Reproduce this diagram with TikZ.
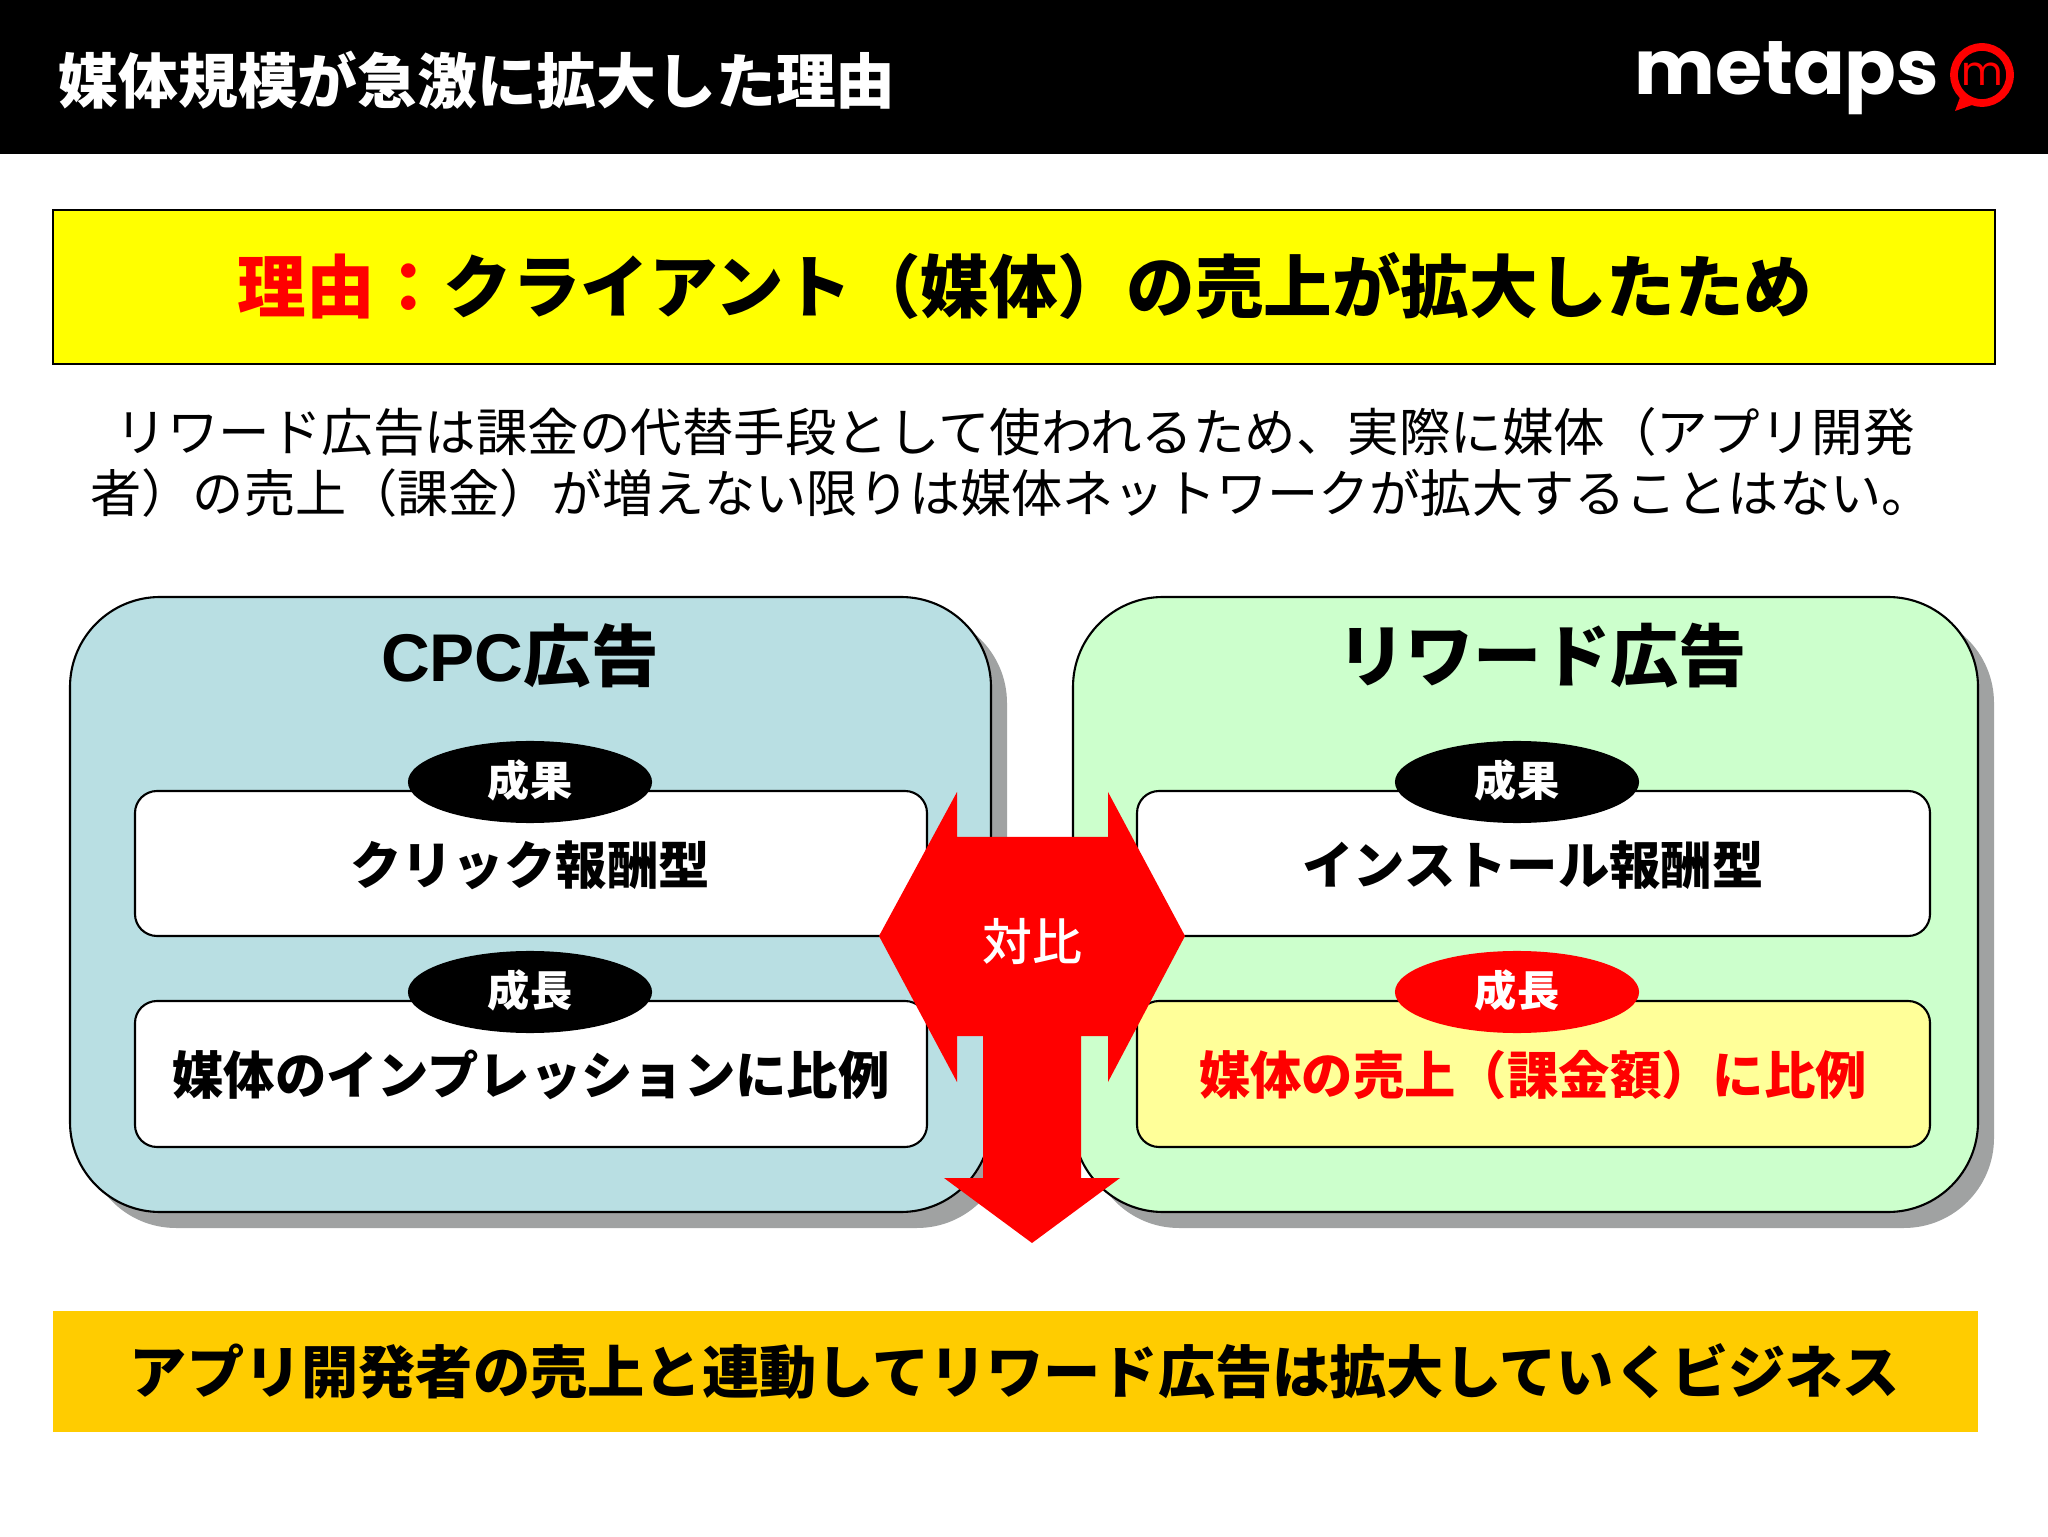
\documentclass[tikz,border=0pt]{standalone}
\usepackage{fontspec}
\setmainfont{Noto Sans CJK JP}
\newfontfamily\logofont{Poppins}
\newfontfamily\latinfont{Liberation Sans}
\newfontfamily\midfont{Noto Sans CJK JP Medium}
\usetikzlibrary{shapes.geometric}

\definecolor{panelblue}{HTML}{B9DFE3}
\definecolor{panelgreen}{HTML}{CCFFCC}
\definecolor{shadowgray}{HTML}{A0A2A2}
\definecolor{softyellow}{HTML}{FFFF99}
\definecolor{bandorange}{HTML}{FFCC00}
\definecolor{pureyellow}{HTML}{FFFF00}
\definecolor{purered}{HTML}{FF0000}

\newcommand{\fsize}[1]{\fontsize{#1}{#1}\selectfont}

\tikzset{
    panel/.style={draw=black, line width=0.6pt, rounded corners=0.9cm},
    panelshadow/.style={fill=shadowgray, rounded corners=0.9cm},
    innerbox/.style={draw=black, line width=0.6pt, fill=white, rounded corners=0.22cm},
    badge/.style={ellipse, fill=black, minimum width=2.44cm, minimum height=0.82cm, inner sep=0pt},
    badgetext/.style={text=white, font=\fsize{12}\bfseries, inner sep=0pt, yshift=0.5pt},
    boxtext/.style={font=\fsize{14.6}\bfseries},
    headtext/.style={font=\fsize{19.2}\bfseries},
    bodytext/.style={anchor=east}
}

\begin{document}
\begin{tikzpicture}[x=0.01cm, y=-0.01cm]
    \useasboundingbox (0,0) rectangle (2048,1537);

    % === Header ===
    \fill[black] (0,0) rectangle (2048,154);
    \node[text=white, font=\fsize{17}\bfseries, anchor=west, inner sep=0pt] (title) at (58,80) {媒体規模が急激に拡大した理由};
    \node[text=white, font=\fsize{21.7}\logofont\bfseries, anchor=east, inner sep=0pt] (logo) at (1940,78) {metaps};

    % Logo bubble
    \fill[purered] (1955,111) -- (1962,92) -- (1975,104) -- cycle;
    \draw[purered, line width=2.2pt] (1982,75) circle (28);
    \node[text=purered, font=\fsize{11.5}\logofont, inner sep=0pt] (logom) at (1982,74) {m};

    % === Reason banner ===
    \draw[fill=pureyellow, line width=0.6pt] (53,210) rectangle (1995,364);
    \node[font=\fsize{19.5}\bfseries, inner sep=0pt] (reason) at (1025,286) {\textcolor{purered}{理由：}クライアント（媒体）の売上が拡大したため};

    % === Body text ===
    \node[bodytext, font=\fsize{14.65}] (bodya) at (1927,432) {リワード広告は課金の代替手段として使われるため、実際に媒体（アプリ開発};
    \node[bodytext, font=\fsize{14.55}] (bodyb) at (1945,493) {者）の売上（課金）が増えない限りは媒体ネットワークが拡大することはない。};

    % === Left panel ===
    \fill[panelshadow] (86,613) rectangle (1007,1228);
    \draw[panel, fill=panelblue] (70,597) rectangle (991,1212);
    \node[headtext] (cpchead) at (520,656) {{\latinfont CPC}広告};

    \draw[innerbox] (135,791) rectangle (927,936);
    \node[boxtext] (cpcresult) at (530,865) {クリック報酬型};
    \node[badge] (cpcbadgea) at (530,782) {};
    \node[badgetext] (cpcbadgetexta) at (cpcbadgea.center) {成果};

    \draw[innerbox] (135,1001) rectangle (927,1147);
    \node[boxtext] (cpcgrowth) at (531,1075) {媒体のインプレッションに比例};
    \node[badge] (cpcbadgeb) at (530,992) {};
    \node[badgetext] (cpcbadgetextb) at (cpcbadgeb.center) {成長};

    % === Right panel ===
    \fill[panelshadow] (1089,613) rectangle (1994,1228);
    \draw[panel, fill=panelgreen] (1073,597) rectangle (1978,1212);
    \node[font=\fsize{19.4}\bfseries] (rewardhead) at (1542,656) {リワード広告};

    \draw[innerbox] (1137,791) rectangle (1930,936);
    \node[boxtext] (rewardresult) at (1533,865) {インストール報酬型};
    \node[badge] (rewardbadgea) at (1517,782) {};
    \node[badgetext] (rewardbadgetexta) at (rewardbadgea.center) {成果};

    \draw[innerbox, fill=softyellow] (1137,1001) rectangle (1930,1147);
    \node[boxtext, text=purered] (rewardgrowth) at (1533,1075) {媒体の売上（課金額）に比例};
    \node[badge, fill=purered] (rewardbadgeb) at (1517,992) {};
    \node[badgetext] (rewardbadgetextb) at (rewardbadgeb.center) {成長};

    % === Center arrow ===
    \fill[purered] (879,936) -- (957,792) -- (957,837) -- (1108,837) -- (1108,792) -- (1185,936)
        -- (1108,1082) -- (1108,1036) -- (1081,1036) -- (1081,1178) -- (1120,1178) -- (1032,1243)
        -- (944,1178) -- (983,1178) -- (983,1036) -- (957,1036) -- (957,1082) -- cycle;
    \node[text=white, font=\fsize{14.2}\midfont, inner sep=0pt] (contrast) at (1032,941) {対比};

    % === Bottom band ===
    \fill[bandorange] (53,1311) rectangle (1978,1432);
    \node[font=\fsize{16.27}\bfseries, inner sep=0pt] (summary) at (1015,1371) {アプリ開発者の売上と連動してリワード広告は拡大していくビジネス};
\end{tikzpicture}
\end{document}
